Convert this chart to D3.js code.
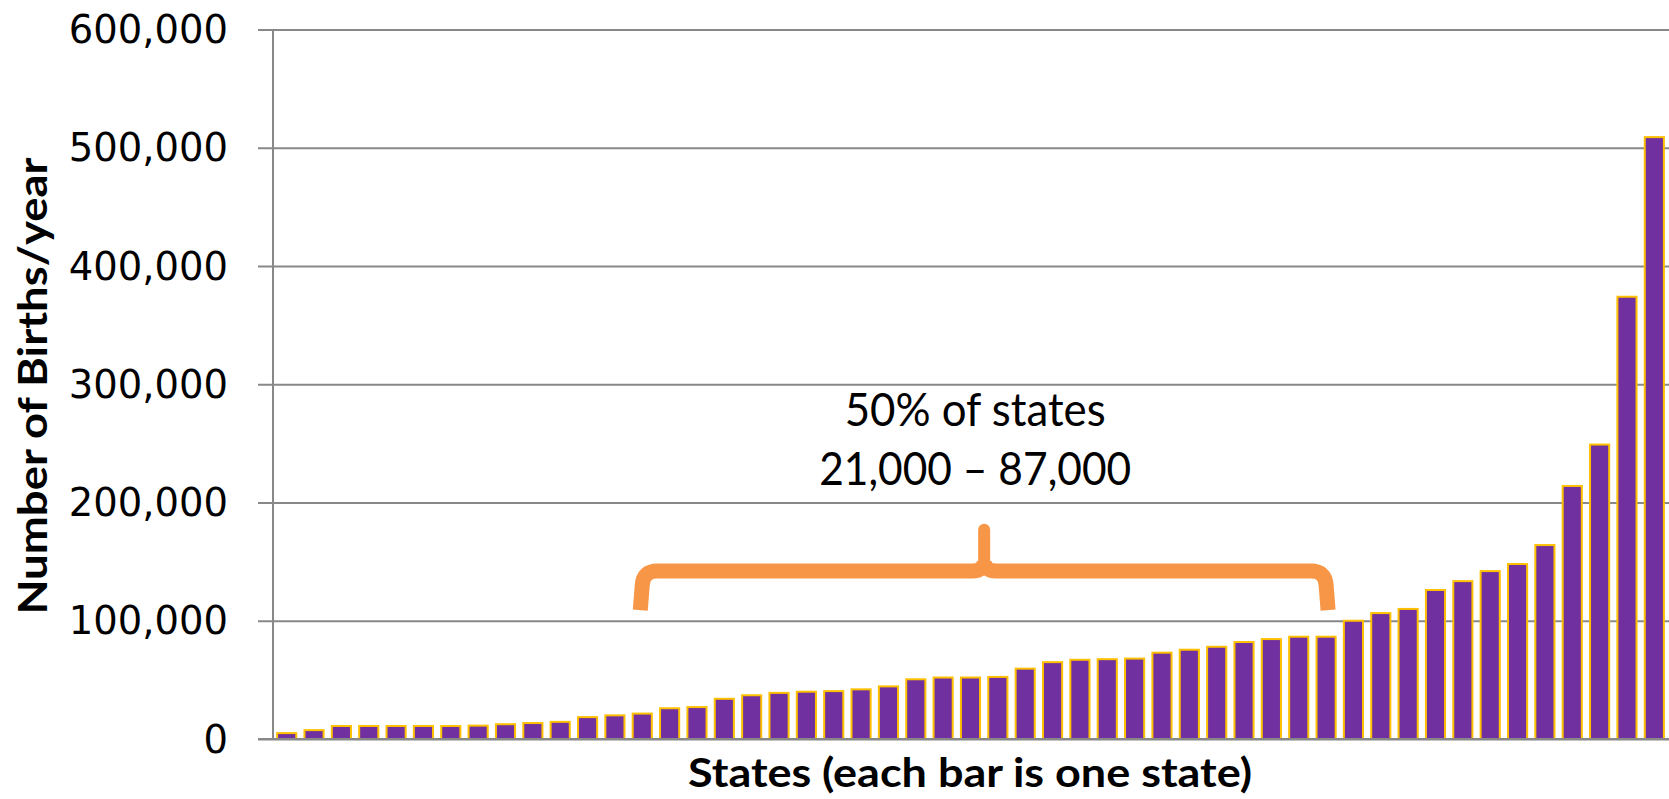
<!DOCTYPE html>
<html>
<head>
<meta charset="utf-8">
<script src="https://cdn.jsdelivr.net/npm/d3@7"></script>
<style>
  html, body { margin: 0; padding: 0; background: #ffffff; }
  svg { display: block; }
</style>
</head>
<body>
<svg id="chart" width="1669" height="799"></svg>
<script>
// ---- data (births per year, states sorted ascending; each bar is one state) ----
const births = [5000, 7500, 11000, 11000, 11000, 11000, 11000, 11300, 12500, 13500,
  14500, 18500, 20000, 21500, 26000, 27000, 34000, 37000, 39000, 40000,
  40500, 42000, 44500, 50500, 52000, 52000, 52500, 59500, 65000, 67000,
  67500, 68000, 73000, 75500, 78000, 82000, 84500, 86500, 86500, 100000,
  106500, 110000, 126000, 133500, 142000, 148000, 164000, 214000, 249000, 374000,
  509000];
const states = births.map((d, i) => i);
const yTicks = [0, 100000, 200000, 300000, 400000, 500000, 600000];
const yTitle = "Number of Births/year";
const xTitle = "States (each bar is one state)";
const noteLines = ["50% of states", "21,000 \u2013 87,000"];
const braceFrom = 13, braceTo = 38;           // bar indices spanned by the brace
const braceLevels = [109000, 142000, 182000]; // end, bar, tip (value units)

// ---- layout ----
const svg = d3.select("#chart");
const plotLeft = 273, plotRight = 1668, plotTop = 29.5, plotBottom = 739;

const x = d3.scaleBand().domain(states).range([plotLeft, plotRight])
  .paddingInner(0.3).paddingOuter(0.15);
const y = d3.scaleLinear().domain([0, 600000]).range([plotBottom, plotTop]);

const fmt = d3.format(",");

// gridlines + tick labels
const yAxis = d3.axisLeft(y).tickValues(yTicks).tickFormat(fmt)
  .tickSizeInner(-(1669 - 258)).tickSizeOuter(0).tickPadding(30);
const gy = svg.append("g").attr("transform", "translate(258,0)").call(yAxis);
gy.select(".domain").remove();
gy.selectAll(".tick line").attr("stroke", "#888888").attr("stroke-width", 1.8);
gy.selectAll(".tick text")
  .attr("font-family", "'DejaVu Sans', Verdana, sans-serif")
  .attr("font-size", 38.5).attr("fill", "#000")
  .attr("dy", "0.34em");

// vertical axis line
svg.append("line")
  .attr("x1", plotLeft).attr("x2", plotLeft)
  .attr("y1", y(600000)).attr("y2", y(0))
  .attr("stroke", "#888888").attr("stroke-width", 2);

// bars
svg.append("g").selectAll("rect").data(births).join("rect")
  .attr("x", (d, i) => x(i))
  .attr("y", d => y(d))
  .attr("width", x.bandwidth())
  .attr("height", d => y(0) - y(d))
  .attr("fill", "#7030A0")
  .attr("stroke", "#FFC000")
  .attr("stroke-width", 2);

// baseline over bars
svg.append("line")
  .attr("x1", 258).attr("x2", 1669)
  .attr("y1", y(0)).attr("y2", y(0))
  .attr("stroke", "#888888").attr("stroke-width", 2);

// brace annotation
const L = x(braceFrom) + x.bandwidth() / 2;
const R = x(braceTo) + x.bandwidth() / 2;
const M = (L + R) / 2;
const yEnd = y(braceLevels[0]), yBar = y(braceLevels[1]), yTip = y(braceLevels[2]);
const orange = "#F79646";
const bp = d3.path();
bp.moveTo(L - 2, yEnd);
bp.lineTo(L, yBar + 14);
bp.quadraticCurveTo(L + 1, yBar, L + 15, yBar);
bp.lineTo(M - 12, yBar);
bp.quadraticCurveTo(M, yBar, M, yBar - 10);
bp.moveTo(M, yBar - 10);
bp.quadraticCurveTo(M, yBar, M + 12, yBar);
bp.lineTo(R - 15, yBar);
bp.quadraticCurveTo(R - 1, yBar, R, yBar + 14);
bp.lineTo(R + 2, yEnd);
svg.append("path").attr("d", bp.toString())
  .attr("fill", "none").attr("stroke", orange).attr("stroke-width", 15)
  .attr("stroke-linejoin", "round");
svg.append("line")
  .attr("x1", M).attr("x2", M)
  .attr("y1", yBar - 6).attr("y2", yTip + 6)
  .attr("stroke", orange).attr("stroke-width", 12).attr("stroke-linecap", "round");

// annotation text
const noteWidths = [261, 312];
svg.append("g").selectAll("text").data(noteLines).join("text")
  .attr("x", M - 9)
  .attr("y", (d, i) => 426 + i * 59)
  .attr("text-anchor", "middle")
  .attr("font-family", "Lato, 'Open Sans', sans-serif")
  .attr("font-size", 46)
  .attr("fill", "#000")
  .attr("textLength", (d, i) => noteWidths[i])
  .attr("lengthAdjust", "spacingAndGlyphs")
  .text(d => d);

// axis titles
svg.append("text")
  .attr("x", 970).attr("y", 787)
  .attr("text-anchor", "middle")
  .attr("font-family", "Lato, 'Open Sans', sans-serif")
  .attr("font-weight", "bold").attr("font-size", 41)
  .attr("textLength", 564).attr("lengthAdjust", "spacingAndGlyphs")
  .attr("fill", "#000")
  .text(xTitle);

svg.append("text")
  .attr("transform", "translate(47,386) rotate(-90)")
  .attr("text-anchor", "middle")
  .attr("font-family", "Lato, 'Open Sans', sans-serif")
  .attr("font-weight", "bold").attr("font-size", 41)
  .attr("textLength", 457).attr("lengthAdjust", "spacingAndGlyphs")
  .attr("fill", "#000")
  .text(yTitle);
</script>
</body>
</html>
